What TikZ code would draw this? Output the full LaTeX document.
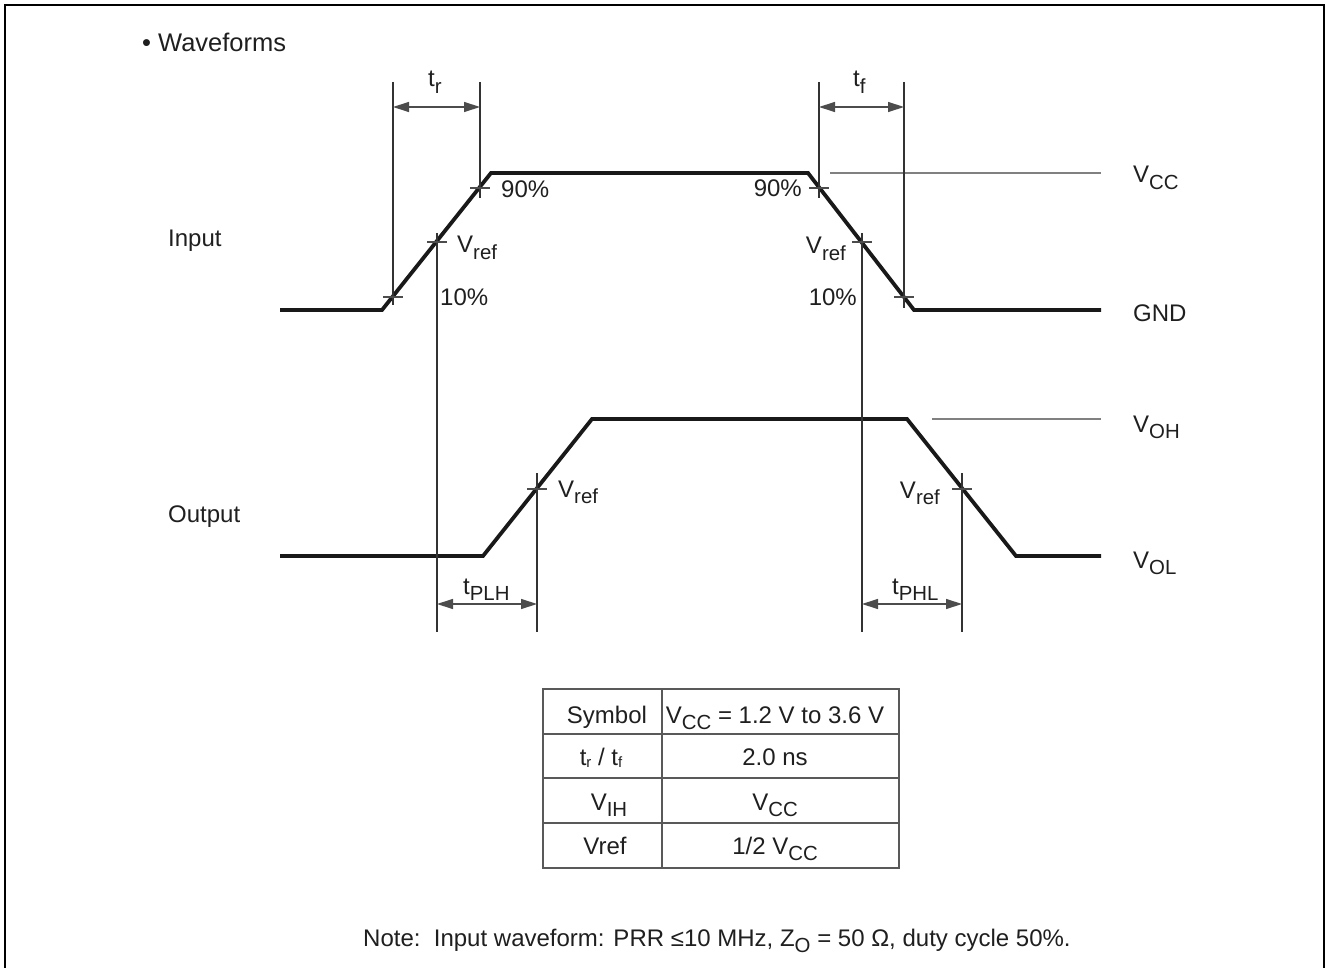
\documentclass[tikz,border=0pt]{standalone}
\usepackage{fontspec}
\setmainfont{Liberation Sans}
\usetikzlibrary{arrows.meta}
\newcommand{\sbs}[1]{\raisebox{-0.26em}{\scalebox{0.85}{#1}}}
\newcommand{\tsb}[1]{\raisebox{-0.1em}{\scalebox{0.62}{#1}}}
\begin{document}
\begin{tikzpicture}[x=1pt,y=-1pt,
  every node/.style={font=\fontsize{24}{28}\selectfont, inner sep=0pt, text=black!88},
  wave/.style={line width=3.8pt, black!90, line join=miter},
  guide/.style={line width=1.2pt, black!80},
  level/.style={line width=1.3pt, black!50},
  tick/.style={line width=1.1pt, black!70},
  dim/.style={line width=1.3pt, black!70, {Triangle[length=16pt,width=10pt]}-{Triangle[length=16pt,width=10pt]}},
  grid/.style={line width=1.5pt, black!65}]
\useasboundingbox (0,0) rectangle (1326,968);
% frame
\draw[line width=2.2pt] (5,972) -- (5,5) -- (1324,5) -- (1324,972);
% title
\node[anchor=base west, font=\fontsize{25.5}{30}\selectfont] (title) at (142,52) {\textbullet\hspace{7pt}Waveforms};
\node[anchor=base west] (inlab) at (168,247) {Input};
\node[anchor=base west] (outlab) at (168,522) {Output};
% input waveform
\coordinate (i0) at (280,310);
\coordinate (i1) at (382,310);
\coordinate (i2) at (491,173);
\coordinate (i3) at (808,173);
\coordinate (i4) at (914,310);
\coordinate (i5) at (1101,310);
\draw[wave] (i0) -- (i1) -- (i2) -- (i3) -- (i4) -- (i5);
% output waveform
\coordinate (o0) at (280,556);
\coordinate (o1) at (483,556);
\coordinate (o2) at (592,419);
\coordinate (o3) at (907,419);
\coordinate (o4) at (1016,556);
\coordinate (o5) at (1101,556);
\draw[wave] (o0) -- (o1) -- (o2) -- (o3) -- (o4) -- (o5);
% level lines
\coordinate (vcc0) at (830,173);
\coordinate (vcc1) at (1101,173);
\draw[level] (vcc0) -- (vcc1);
\coordinate (voh0) at (932,419);
\coordinate (voh1) at (1101,419);
\draw[level] (voh0) -- (voh1);
% right labels
\node[anchor=base west] (lvcc) at (1133,183) {V\sbs{CC}};
\node[anchor=base west] (lgnd) at (1133,322) {GND};
\node[anchor=base west] (lvoh) at (1133,432) {V\sbs{OH}};
\node[anchor=base west] (lvol) at (1133,568) {V\sbs{OL}};
% guide lines
\coordinate (ga0) at (393,82);  \coordinate (ga1) at (393,305);
\coordinate (gb0) at (480,82);  \coordinate (gb1) at (480,198);
\coordinate (gc0) at (437,233); \coordinate (gc1) at (437,632);
\coordinate (gd0) at (819,82);  \coordinate (gd1) at (819,198);
\coordinate (ge0) at (862,233); \coordinate (ge1) at (862,632);
\coordinate (gf0) at (904,82);  \coordinate (gf1) at (904,308);
\coordinate (gg0) at (537,473); \coordinate (gg1) at (537,632);
\coordinate (gh0) at (962,473); \coordinate (gh1) at (962,632);
\foreach \g in {a,b,c,d,e,f,g,h} {\draw[guide] (g\g0) -- (g\g1);}
% ticks
\foreach \x/\y in {393/297, 480/188, 437/242, 819/188, 862/242, 904/297, 537/489, 962/489}
  {\draw[tick] (\x-10,\y) -- (\x+10,\y);}
% dimension arrows
\coordinate (tr0) at (393,107); \coordinate (tr1) at (480,107);
\draw[dim] (tr0) -- (tr1);
\coordinate (tf0) at (819,107); \coordinate (tf1) at (904,107);
\draw[dim] (tf0) -- (tf1);
\coordinate (tp0) at (437,604); \coordinate (tp1) at (537,604);
\draw[dim] (tp0) -- (tp1);
\coordinate (tq0) at (862,604); \coordinate (tq1) at (962,604);
\draw[dim] (tq0) -- (tq1);
\node[anchor=base west] (ltr) at (428,87) {t\sbs{r}};
\node[anchor=base west] (ltf) at (853,87) {t\sbs{f}};
\node[anchor=base west] (ltplh) at (463,594) {t\sbs{PLH}};
\node[anchor=base west] (ltphl) at (892,594) {t\sbs{PHL}};
% input labels
\node[anchor=base west] (p90a) at (501,198) {90\%};
\node[anchor=base west] (vra) at (457,253) {V\sbs{ref}};
\node[anchor=base west] (p10a) at (440,306) {10\%};
\node[anchor=base east] (p90b) at (802,197) {90\%};
\node[anchor=base east] (vrb) at (846,254) {V\sbs{ref}};
\node[anchor=base east] (p10b) at (857,306) {10\%};
% output labels
\node[anchor=base west] (vrc) at (558,497) {V\sbs{ref}};
\node[anchor=base east] (vrd) at (940,498) {V\sbs{ref}};
% table
\coordinate (ta) at (543,689); \coordinate (tb) at (899,868);
\draw[grid] (ta) rectangle (tb);
\coordinate (c0) at (662,689); \coordinate (c1) at (662,868);
\draw[grid] (c0) -- (c1);
\foreach \y in {734,778,823} {\draw[grid] (543,\y) -- (899,\y);}
\node[anchor=base] (s1) at (607,723) {Symbol};
\node[anchor=base] (s2) at (775,723) {V\sbs{CC} = 1.2 V to 3.6 V};
\node[anchor=base] (s3) at (601,765) {t\tsb{r} / t\tsb{f}};
\node[anchor=base] (s4) at (775,765) {2.0 ns};
\node[anchor=base] (s5) at (609,810) {V\sbs{IH}};
\node[anchor=base] (s6) at (775,810) {V\sbs{CC}};
\node[anchor=base] (s7) at (605,854) {Vref};
\node[anchor=base] (s8) at (775,854) {1/2 V\sbs{CC}};
% note
\node[anchor=base west] (note) at (363,946) {Note:\ \ Input waveform: PRR ≤10 MHz, Z\sbs{O} = 50 Ω, duty cycle 50\%.};
\end{tikzpicture}
\end{document}
